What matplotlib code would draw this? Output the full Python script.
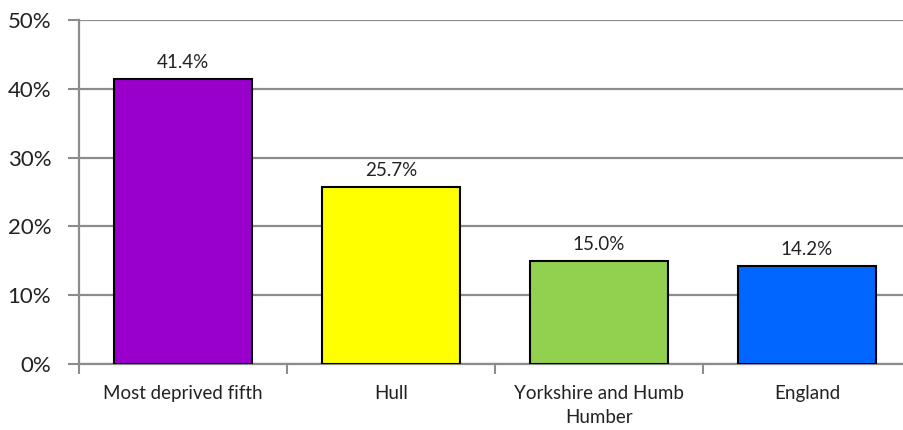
import numpy as np
import matplotlib.pyplot as plt
from matplotlib.ticker import FixedLocator, PercentFormatter

plt.rcParams['font.family'] = ['Lato', 'DejaVu Sans']

categories = ["Most deprived fifth", "Hull", "Yorkshire and Humb\nHumber", "England"]
values = [41.4, 25.7, 15.0, 14.2]
colors = ["#9900CC", "#FFFF00", "#92D050", "#0066FF"]

fig = plt.figure(figsize=(9.04, 4.30), dpi=100)
W, H = 904, 430
ax = fig.add_axes([79 / W, (430 - 364) / H, 832 / W, 344 / H])

x = np.arange(len(categories))
ax.bar(x, values, width=0.665, color=colors, edgecolor="black", linewidth=1.5, zorder=3)

for xi, v in zip(x, values):
    ax.text(xi, v + 1.2, f"{v:.1f}%", ha="center", va="bottom", fontsize=13.5, color="#222222")

ax.set_xlim(-0.5, 3.5)
ax.set_ylim(0, 50)
ax.set_yticks(np.arange(0, 51, 10))
ax.yaxis.set_major_formatter(PercentFormatter(decimals=0))
ax.yaxis.grid(True, color="#8c8c8c", linewidth=1.6, zorder=0)
ax.set_axisbelow(True)

ax.xaxis.set_major_locator(FixedLocator([-0.5, 0.5, 1.5, 2.5, 3.5]))
ax.xaxis.set_major_formatter(plt.NullFormatter())
ax.xaxis.set_minor_locator(FixedLocator(x))
ax.set_xticklabels(categories, minor=True, fontsize=13.5, color="#222222", linespacing=1.5)
ax.tick_params(axis="x", which="minor", length=0, pad=15)
ax.tick_params(axis="x", which="major", length=7, width=1.5, color="#8c8c8c")
ax.tick_params(axis="y", length=8, width=1.5, color="#8c8c8c", labelsize=16, pad=12, labelcolor="#222222")

for s in ["top", "right"]:
    ax.spines[s].set_visible(False)
for s in ["left", "bottom"]:
    ax.spines[s].set_color("#8c8c8c")
    ax.spines[s].set_linewidth(1.6)

fig.savefig("out.png", dpi=100)
